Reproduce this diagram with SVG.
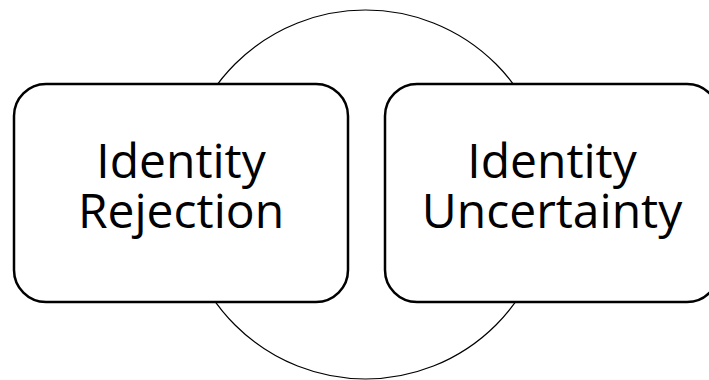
<svg xmlns="http://www.w3.org/2000/svg" width="709" height="380" viewBox="0 0 709 380">
<style>
.box{fill:#fff;stroke:#000;stroke-width:2.5}
.ring{fill:none;stroke:#000;stroke-width:1.2}
.lbl{font-family:"Open Sans","Liberation Sans",sans-serif;font-size:48px;fill:#000;text-anchor:middle}
</style>
<rect width="709" height="380" fill="#fff"/>
<g id="connectors">
<circle class="ring" cx="365.5" cy="194.5" r="184.5"/>
</g>
<g id="node-rejection">
<rect class="box" x="14" y="84" width="334" height="218" rx="32" ry="32"/>
<text class="lbl" x="181" y="178">Identity</text>
<text class="lbl" x="181" y="228">Rejection</text>
</g>
<g id="node-uncertainty">
<rect class="box" x="385" y="84" width="334" height="218" rx="32" ry="32"/>
<text class="lbl" x="552" y="178">Identity</text>
<text class="lbl" x="552" y="228">Uncertainty</text>
</g>
</svg>
